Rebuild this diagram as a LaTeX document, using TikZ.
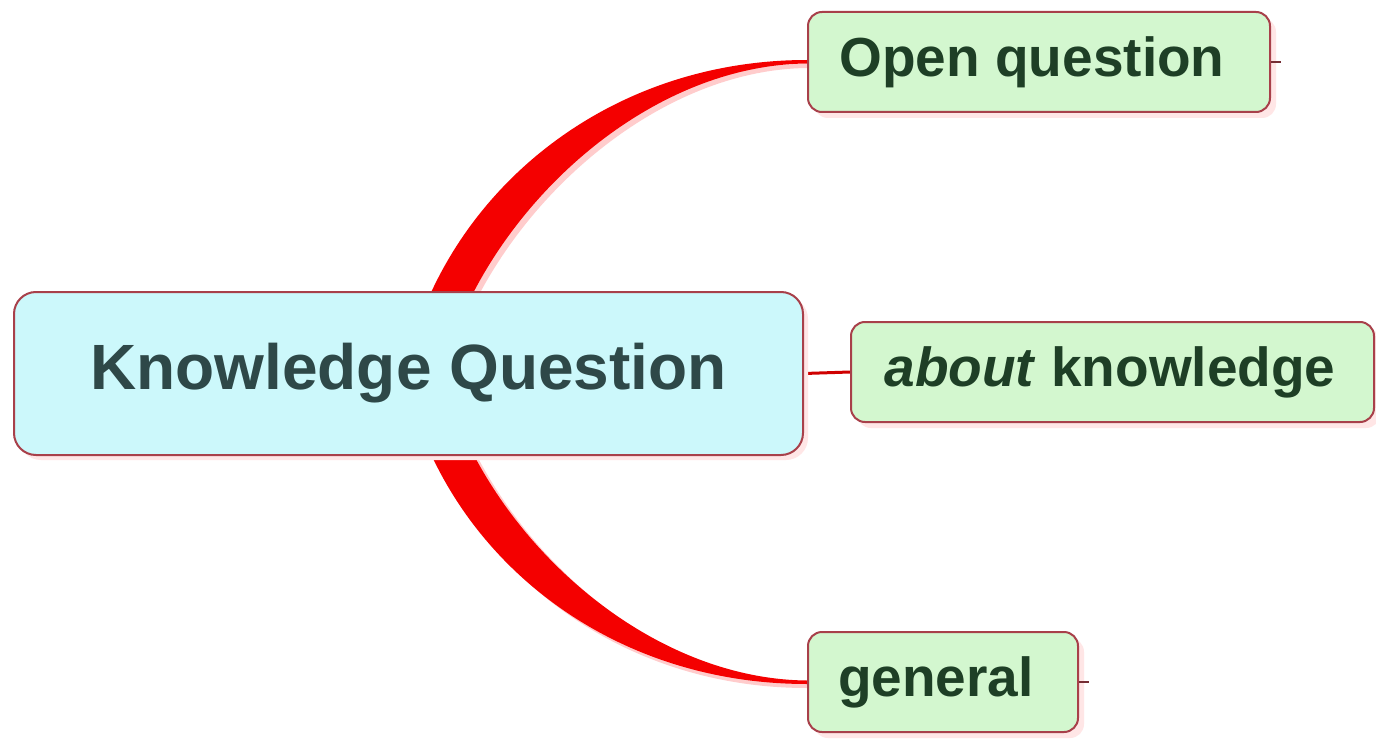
\documentclass[tikz,border=0pt]{standalone}
\usepackage{fontspec}
\setmainfont{Liberation Sans}
\usetikzlibrary{calc,shadows}
\definecolor{kqfill}{HTML}{CCF8FB}
\definecolor{kqtext}{HTML}{2E4848}
\definecolor{subfill}{HTML}{D3F7CF}
\definecolor{subtext}{HTML}{1E3F26}
\definecolor{rim}{HTML}{A8404A}
\definecolor{branch}{HTML}{F40000}
\definecolor{haze}{HTML}{FFCCCC}
\definecolor{glow}{HTML}{FFE6E6}
\pgfdeclarelayer{bg}
\pgfsetlayers{bg,main}
\tikzset{
  topic/.style={draw=rim, line width=2pt, fill=kqfill, rounded corners=22pt,
    minimum width=789pt, minimum height=163pt, inner sep=0pt,
    text=kqtext, font=\fontsize{64}{70}\selectfont\bfseries,
    drop shadow={shadow xshift=5pt, shadow yshift=-5pt, fill=glow, opacity=1}},
  subtopic/.style={draw=rim, line width=2pt, fill=subfill, rounded corners=14pt,
    minimum height=100pt, inner sep=0pt,
    text=subtext, font=\fontsize{55}{60}\selectfont\bfseries,
    drop shadow={shadow xshift=6pt, shadow yshift=-6pt, fill=glow, opacity=1}},
  band/.style={fill=branch, draw=none},
  bandhaze/.style={fill=haze, draw=none},
  link/.style={draw=branch!85!black, line width=3pt},
  tick/.style={draw=rim!70!black, line width=1.5pt}
}
\begin{document}
\begin{tikzpicture}[x=1pt, y=-1pt]
\useasboundingbox (0,0) rectangle (1376,741);

% central topic and its subtopics
\node[topic] (kq) at (408.5,373.5) {Knowledge Question};
\node[subtopic, minimum width=462pt] (oq) at (1039,62) {\hspace*{-14pt}Open question};
\node[subtopic, minimum width=523pt] (ak) at (1112.5,372) {\hspace*{-5pt}\textit{about} knowledge};
\node[subtopic, minimum width=270pt] (gen) at (943,682) {\hspace*{-14pt}general};

% paper and tapered branches, drawn beneath the nodes
\begin{pgfonlayer}{bg}
  \fill[white] (0,0) rectangle (1376,741);
  % upper branch
  \fill[bandhaze] ($(kq.center)+(-1,3)$)
      .. controls ($(kq.center)+(36,-169)$) and ($(oq.west)+(-204,2)$) .. ($(oq.west)+(0,2)$)
      -- ($(oq.west)+(0,6)$)
      .. controls ($(oq.west)+(-170,8)$) and ($(kq.center)+(60,-134)$) .. ($(kq.center)+(32,31)$)
      -- cycle;
  \fill[band] ($(kq.center)+(-4,-1)$)
      .. controls ($(kq.center)+(32,-173)$) and ($(oq.west)+(-208,-2)$) .. ($(oq.west)+(0,-2)$)
      -- ($(oq.west)+(0,1.5)$)
      .. controls ($(oq.west)+(-176,3)$) and ($(kq.center)+(55,-138)$) .. ($(kq.center)+(28,27)$)
      -- cycle;
  % lower branch
  \fill[bandhaze] ($(kq.center)+(-1,-3)$)
      .. controls ($(kq.center)+(36,177)$) and ($(gen.west)+(-204,6)$) .. ($(gen.west)+(0,6)$)
      -- ($(gen.west)+(0,2)$)
      .. controls ($(gen.west)+(-170,0)$) and ($(kq.center)+(60,142)$) .. ($(kq.center)+(32,-23)$)
      -- cycle;
  \fill[band] ($(kq.center)+(-4,1)$)
      .. controls ($(kq.center)+(32,173)$) and ($(gen.west)+(-208,2)$) .. ($(gen.west)+(0,2)$)
      -- ($(gen.west)+(0,-1.5)$)
      .. controls ($(gen.west)+(-176,-3)$) and ($(kq.center)+(55,138)$) .. ($(kq.center)+(28,-27)$)
      -- cycle;
  % short straight link to the middle subtopic
  \draw[link] (kq.east) -- (ak.west);
\end{pgfonlayer}

% collapse markers
\coordinate (oqt) at ($(oq.east)+(10,0)$);
\coordinate (gent) at ($(gen.east)+(10,0)$);
\draw[tick] (oq.east) -- (oqt);
\draw[tick] (gen.east) -- (gent);
\end{tikzpicture}
\end{document}
